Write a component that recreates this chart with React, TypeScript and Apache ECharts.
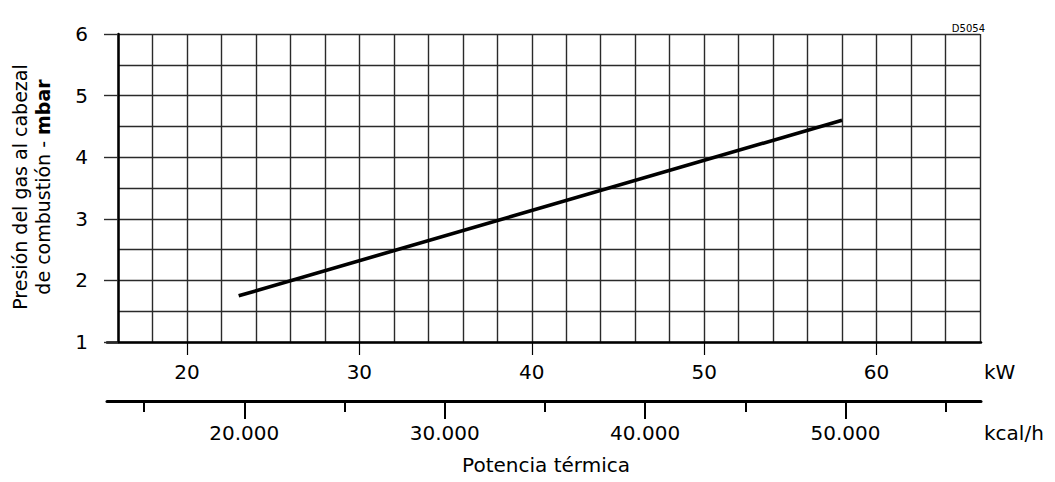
import React, { useEffect, useRef } from "react";
import * as echarts from "echarts";

// Data
const powerKW: number[] = [23, 58];
const pressureMbar: number[] = [1.75, 4.6];

// Axis tick labels
const yTickValues: number[] = [1, 2, 3, 4, 5, 6];
const kwTickValues: number[] = [20, 30, 40, 50, 60];
const kcalMajorTicks: number[] = [20000, 30000, 40000, 50000];
const kcalMinorTicks: number[] = [15000, 25000, 35000, 45000, 55000];

const FONT = "DejaVu Sans";
const GRID_COLOR = "#2a2a2a";

export default function App() {
  const ref = useRef<HTMLDivElement>(null);

  useEffect(() => {
    if (!ref.current) return;
    const chart = echarts.init(ref.current, undefined, { renderer: "svg" });

    const fmtKcal = (v: number) => String(v / 1000) + ".000";

    const option: any = {
      animation: false,
      backgroundColor: "#ffffff",
      textStyle: { fontFamily: FONT, color: "#000" },
      grid: [
        { left: 118, top: 34, width: 862, height: 308 },
        { left: 107, top: 341, width: 874, height: 1 },
        { left: 107, top: 400, width: 874, height: 1 },
      ],
      xAxis: [
        {
          type: "value",
          gridIndex: 0,
          min: 16,
          max: 66,
          interval: 2,
          axisLine: { show: false },
          axisTick: { show: false },
          axisLabel: { show: false },
          splitLine: { show: true, lineStyle: { color: GRID_COLOR, width: 1.4 } },
        },
        {
          type: "value",
          gridIndex: 1,
          position: "bottom",
          min: 16 - 11 / 17.24,
          max: 66 + 1 / 17.24,
          axisLine: { show: true, lineStyle: { color: "#000", width: 2.5 } },
          axisTick: {
            show: true,
            customValues: kwTickValues,
            length: 13,
            lineStyle: { color: "#000", width: 1.2 },
          },
          axisLabel: {
            show: true,
            customValues: kwTickValues,
            fontSize: 20,
            fontFamily: FONT,
            color: "#000",
            margin: 20,
          },
          splitLine: { show: false },
        },
        {
          type: "value",
          gridIndex: 2,
          position: "bottom",
          min: 13149,
          max: 56761,
          axisLine: { show: true, lineStyle: { color: "#000", width: 3 } },
          axisTick: {
            show: true,
            customValues: kcalMajorTicks,
            length: 18,
            lineStyle: { color: "#000", width: 2 },
          },
          axisLabel: {
            show: true,
            customValues: kcalMajorTicks,
            formatter: fmtKcal,
            fontSize: 20,
            fontFamily: FONT,
            color: "#000",
            margin: 22,
          },
          splitLine: { show: false },
        },
        {
          type: "value",
          gridIndex: 2,
          position: "bottom",
          min: 13149,
          max: 56761,
          axisLine: { show: false },
          axisTick: {
            show: true,
            customValues: kcalMinorTicks,
            length: 11,
            lineStyle: { color: "#000", width: 2 },
          },
          axisLabel: { show: false },
          splitLine: { show: false },
        },
      ],
      yAxis: [
        {
          // grid lines every 0.5 mbar
          type: "value",
          gridIndex: 0,
          min: 1,
          max: 6,
          interval: 0.5,
          axisLine: { show: false },
          axisTick: { show: false },
          axisLabel: { show: false },
          splitLine: { show: true, lineStyle: { color: GRID_COLOR, width: 1.4 } },
        },
        {
          // visible axis with integer ticks and labels
          type: "value",
          gridIndex: 0,
          position: "left",
          min: 1,
          max: 6,
          axisLine: { show: true, onZero: false, lineStyle: { color: "#000", width: 2.5 } },
          axisTick: {
            show: true,
            customValues: yTickValues,
            length: 14,
            lineStyle: { color: GRID_COLOR, width: 1.4 },
          },
          axisLabel: {
            show: true,
            customValues: yTickValues,
            fontSize: 20,
            fontFamily: FONT,
            color: "#000",
            margin: 30,
          },
          splitLine: { show: false },
        },
        { type: "value", gridIndex: 1, show: false, min: 0, max: 1 },
        { type: "value", gridIndex: 2, show: false, min: 0, max: 1 },
      ],
      series: [
        {
          type: "line",
          xAxisIndex: 0,
          yAxisIndex: 0,
          data: powerKW.map((x, i) => [x, pressureMbar[i]]),
          symbol: "none",
          lineStyle: { color: "#000", width: 3.6 },
          z: 5,
        },
      ],
      graphic: [
        {
          type: "text",
          x: 985,
          y: 28,
          style: {
            text: "D5054",
            fontSize: 10,
            fontFamily: FONT,
            fill: "#000",
            align: "right",
            verticalAlign: "middle",
          },
        },
        {
          type: "text",
          x: 984,
          y: 372,
          style: {
            text: "kW",
            fontSize: 20,
            fontFamily: FONT,
            fill: "#000",
            align: "left",
            verticalAlign: "middle",
          },
        },
        {
          type: "text",
          x: 984,
          y: 433,
          style: {
            text: "kcal/h",
            fontSize: 20,
            fontFamily: FONT,
            fill: "#000",
            align: "left",
            verticalAlign: "middle",
          },
        },
        {
          type: "text",
          x: 546,
          y: 465,
          style: {
            text: "Potencia térmica",
            fontSize: 20,
            fontFamily: FONT,
            fill: "#000",
            align: "center",
            verticalAlign: "middle",
          },
        },
        {
          type: "text",
          x: 31,
          y: 187,
          rotation: Math.PI / 2,
          style: {
            text: "Presión del gas al cabezal\nde combustión - {b|mbar}",
            fontSize: 19,
            fontFamily: FONT,
            fill: "#000",
            align: "center",
            verticalAlign: "middle",
            lineHeight: 23,
            rich: {
              b: { fontSize: 19, fontFamily: FONT, fontWeight: "bold", fill: "#000", lineHeight: 23 },
            },
          },
        },
      ],
    };

    chart.setOption(option);
    return () => chart.dispose();
  }, []);

  return (
    <div
      ref={ref}
      style={{ position: "fixed", left: 0, top: 0, width: 1055, height: 482 }}
    />
  );
}
